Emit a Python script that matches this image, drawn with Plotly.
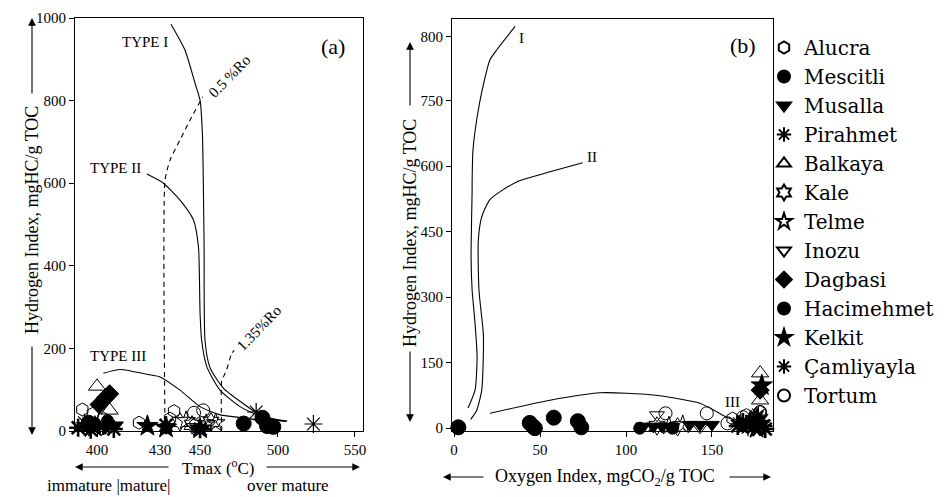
import numpy as np
import plotly.graph_objects as go

FONT = "Liberation Serif, Times New Roman, serif"
LEGEND_FONT = "DejaVu Serif, Liberation Serif, serif"

# ---------------- axis ticks of the (hand-drawn) figure ----------------
TMAX_TICKS = [400, 430, 450, 500, 550]
TMAX_TICK_POS = [400.0, 440.9, 466.9, 517.5, 567.5]   # relative spacing of the drawn Tmax ticks
HI_A_TICKS = [0, 200, 400, 600, 800, 1000]
OI_TICKS = [0, 50, 100, 150]
HI_B_TICKS = [0, 150, 300, 450, 600, 750, 800]
HI_B_BREAK = 750          # HI axis of (b) is compressed above 750
HI_B_STRETCH = 2.93

SERIES = ["Alucra", "Mescitli", "Musalla", "Pirahmet", "Balkaya", "Kale", "Telme",
          "Inozu", "Dagbasi", "Hacimehmet", "Kelkit", "Çamliyayla", "Tortum"]

# ---------------- panel (a): Tmax vs HI ----------------
TMAX_A = {
    "Alucra": [393, 398, 403, 420, 435, 437],
    "Mescitli": [396, 478, 490, 493, 497],
    "Musalla": [395, 404, 409, 434],
    "Pirahmet": [391, 397, 403, 408, 433, 450],
    "Balkaya": [400, 406],
    "Kale": [440, 446, 457],
    "Telme": [443, 454, 460],
    "Inozu": [447, 455],
    "Dagbasi": [401, 404, 406],
    "Hacimehmet": [399, 405],
    "Kelkit": [399, 424, 433, 450],
    "Çamliyayla": [486, 523, 394],
    "Tortum": [447, 452],
}
HI_A = {
    "Alucra": [52, 42, 30, 20, 30, 48],
    "Mescitli": [20, 18, 32, 12, 10],
    "Musalla": [12, 8, 14, 10],
    "Pirahmet": [8, 3, 12, 5, 14, 4],
    "Balkaya": [108, 50],
    "Kale": [22, 15, 22],
    "Telme": [25, 18, 20],
    "Inozu": [10, 14],
    "Dagbasi": [64, 80, 90],
    "Hacimehmet": [18, 25],
    "Kelkit": [10, 12, 8, 6],
    "Çamliyayla": [46, 17, 20],
    "Tortum": [44, 50],
}

# ---------------- panel (b): OI vs HI ----------------
OI_B = {
    "Alucra": [162, 170, 178],
    "Mescitli": [2.5, 44, 46, 47, 58, 72, 74],
    "Musalla": [110, 116, 121, 127, 137, 143, 150],
    "Pirahmet": [165, 168, 170, 174, 176, 178, 180, 181],
    "Balkaya": [178, 178],
    "Kale": [118, 130],
    "Telme": [125, 133],
    "Inozu": [118, 143],
    "Dagbasi": [178],
    "Hacimehmet": [108, 127],
    "Kelkit": [172, 179, 176],
    "Çamliyayla": [166, 171, 175, 179, 177],
    "Tortum": [123, 147, 159, 168, 178],
}
HI_B = {
    "Alucra": [22, 30, 37],
    "Mescitli": [2, 12, 4, 0, 24, 16, 2],
    "Musalla": [4, 4, 4, 3, 8, 8, 8],
    "Pirahmet": [5, 14, 10, 2, 25, 15, 5, -2],
    "Balkaya": [126, 64],
    "Kale": [5, 3],
    "Telme": [5, 8],
    "Inozu": [30, 2],
    "Dagbasi": [87],
    "Hacimehmet": [0, 0],
    "Kelkit": [12, 98, 0],
    "Çamliyayla": [10, 2, 5, 18, 30],
    "Tortum": [34, 34, 11, 25, 37],
}

# ---------------- kerogen type curves ----------------
TYPE1_TMAX = [435.5, 442.5, 447.5, 450, 451.5, 452.1, 452.6, 453.2, 456.4, 464.9, 477.8, 486.3, 496, 506]
TYPE1_HI = [985, 922, 842, 801, 721, 600, 444, 218, 153, 104, 66, 44, 30, 24]
TYPE2_TMAX = [423.7, 431.7, 440, 446.7, 449.2, 450, 451, 454.3, 462.8, 475.6, 484.2, 495, 505]
TYPE2_HI = [622, 600, 559, 511, 446, 285, 220, 156, 99, 59, 43, 30, 23]
TYPE3_TMAX = [403, 411, 425, 430, 440, 450, 463, 480, 486, 505]
TYPE3_HI = [140, 149, 136, 131, 99, 59, 39, 31, 27, 25]
RO05_TMAX = [432.5, 432.5, 435, 440, 445, 451.7]
RO05_HI = [0, 608, 656, 705, 753, 809]
RO135_TMAX = [463.9, 463.9, 465.5, 467, 470.3, 472]
RO135_HI = [0, 123, 135, 148, 188, 195]

TYPE1_OI = [8.1, 12.2, 13.4, 12.2, 10.5, 9.9, 10.5, 10.5, 11, 13.4, 16.3, 20.9, 25, 35.5]
TYPE1_HI_B = [46, 87, 163, 240, 316, 392, 545, 561, 637, 712, 758, 782, 790, 808]
TYPE2_OI = [9.7, 13.2, 16.1, 17, 17, 14.5, 14.1, 16.1, 21, 36.4, 55.8, 74.8]
TYPE2_HI_B = [20, 41, 87, 163, 217, 316, 430, 484, 524, 564, 587, 608]
TYPE3_OI = [20.9, 55.8, 85, 115.7, 143, 158.7, 163.4]
TYPE3_HI_B = [34, 64, 81, 76, 57, 25, 18]

# ---------------- marker styles ----------------
SYMBOLS = {
    "Alucra": ("hexagon-open", 13, 1), "Mescitli": ("circle", 15, 1),
    "Musalla": ("triangle-down", 13, 1), "Pirahmet": ("asterisk-open", 15, 2.6),
    "Balkaya": ("triangle-up-open", 15, 1), "Kale": ("hexagram-open", 14, 1),
    "Telme": ("star-open", 14, 1), "Inozu": ("triangle-down-open", 13, 1),
    "Dagbasi": ("diamond", 14, 1), "Hacimehmet": ("circle", 12, 1),
    "Kelkit": ("star", 16, 1), "Çamliyayla": ("asterisk-open", 15, 1.2),
    "Tortum": ("circle-open", 13, 1),
}


def tmax_pos(t):
    t = np.asarray(t, float)
    lo = (TMAX_TICK_POS[1] - TMAX_TICK_POS[0]) / (TMAX_TICKS[1] - TMAX_TICKS[0])
    hi = (TMAX_TICK_POS[-1] - TMAX_TICK_POS[-2]) / (TMAX_TICKS[-1] - TMAX_TICKS[-2])
    out = np.interp(t, TMAX_TICKS, TMAX_TICK_POS)
    out = np.where(t < TMAX_TICKS[0], TMAX_TICK_POS[0] + (t - TMAX_TICKS[0]) * lo, out)
    out = np.where(t > TMAX_TICKS[-1], TMAX_TICK_POS[-1] + (t - TMAX_TICKS[-1]) * hi, out)
    return out


def hib_pos(h):
    h = np.asarray(h, float)
    return np.where(h <= HI_B_BREAK, h, HI_B_BREAK + (h - HI_B_BREAK) * HI_B_STRETCH)


fig = go.Figure()

line_style = dict(color="black", width=1.1, shape="spline", smoothing=0.6)
dash_style = dict(color="black", width=1.1, dash="5px,4px", shape="spline", smoothing=0.5)

for tx, hy in [(TYPE1_TMAX, TYPE1_HI), (TYPE2_TMAX, TYPE2_HI), (TYPE3_TMAX, TYPE3_HI)]:
    fig.add_trace(go.Scatter(x=tmax_pos(tx), y=hy, mode="lines", line=line_style,
                             showlegend=False, hoverinfo="skip", xaxis="x", yaxis="y"))
for tx, hy in [(RO05_TMAX, RO05_HI), (RO135_TMAX, RO135_HI)]:
    fig.add_trace(go.Scatter(x=tmax_pos(tx), y=hy, mode="lines", line=dash_style,
                             showlegend=False, hoverinfo="skip", xaxis="x", yaxis="y"))
for ox, hy in [(TYPE1_OI, TYPE1_HI_B), (TYPE2_OI, TYPE2_HI_B), (TYPE3_OI, TYPE3_HI_B)]:
    fig.add_trace(go.Scatter(x=ox, y=hib_pos(hy), mode="lines", line=line_style,
                             showlegend=False, hoverinfo="skip", xaxis="x2", yaxis="y2"))

for name in SERIES:
    sym, size, lw = SYMBOLS[name]
    mk = dict(symbol=sym, size=size, color="black", line=dict(color="black", width=lw))
    fig.add_trace(go.Scatter(x=tmax_pos(TMAX_A[name]), y=HI_A[name], mode="markers",
                             marker=mk, name=name, legendgroup=name, showlegend=True,
                             cliponaxis=False, xaxis="x", yaxis="y",
                             customdata=TMAX_A[name], hovertemplate="Tmax %{customdata}<br>HI %{y}"))
    fig.add_trace(go.Scatter(x=OI_B[name], y=hib_pos(HI_B[name]), mode="markers",
                             marker=mk, name=name, legendgroup=name, showlegend=False,
                             cliponaxis=False, xaxis="x2", yaxis="y2",
                             customdata=HI_B[name], hovertemplate="OI %{x}<br>HI %{customdata}"))

W, H = 944, 497


def px(x):
    return x / W


def py(y):
    return 1 - y / H


axis_common = dict(showline=True, mirror=True, linecolor="black", linewidth=1.2,
                   ticks="outside", ticklen=5, tickcolor="black", tickwidth=1,
                   showgrid=False, zeroline=False, automargin=False,
                   tickfont=dict(family=FONT, size=15, color="black"))

fig.update_layout(
    width=W, height=H, margin=dict(l=0, r=0, t=0, b=0, autoexpand=False),
    paper_bgcolor="white", plot_bgcolor="white",
    xaxis=dict(domain=[px(75), px(363)], range=[385.7, 572.7], anchor="y",
               tickvals=tmax_pos(TMAX_TICKS), ticktext=[str(t) for t in TMAX_TICKS], **axis_common),
    yaxis=dict(domain=[py(431), py(18)], range=[0, 1000], anchor="x",
               tickvals=HI_A_TICKS, **axis_common),
    xaxis2=dict(domain=[px(452), px(773)], range=[-1.2, 185.5], anchor="y2",
                tickvals=OI_TICKS, **axis_common),
    yaxis2=dict(domain=[py(431), py(19)], range=[-6.5, 937], anchor="x2",
                tickvals=hib_pos(HI_B_TICKS), ticktext=[str(t) for t in HI_B_TICKS], **axis_common),
    legend=dict(x=px(764), y=py(28), xanchor="left", yanchor="top",
                font=dict(family=LEGEND_FONT, size=20, color="black"),
                bgcolor="rgba(0,0,0,0)", tracegroupgap=0, itemsizing="constant", traceorder="normal"),
    font=dict(family=FONT, color="black"),
)

ann = []


def text(x, y, s, size, angle=0, xref="paper", yref="paper", xanchor="center", yanchor="middle"):
    ann.append(dict(x=x, y=y, xref=xref, yref=yref, text=s, showarrow=False,
                    xanchor=xanchor, yanchor=yanchor,
                    textangle=angle, font=dict(family=FONT, size=size, color="black")))


def arrow(xh, yh, xt, yt):
    ann.append(dict(x=px(xh), y=py(yh), xref="paper", yref="paper", text="",
                    showarrow=True, ax=xt - xh, ay=yt - yh, arrowhead=2, arrowsize=1.4,
                    arrowwidth=1.1, arrowcolor="black"))


# axis titles
text(px(32), py(220), "Hydrogen Index, mgHC/g TOC", 18, angle=-90)
arrow(32, 18, 32, 95)
arrow(32, 435, 32, 345)
text(px(218), py(467), "Tmax (<sup>o</sup>C)", 17)
arrow(75, 467, 170, 467)
arrow(360, 467, 265, 467)
text(px(172), py(485), "immature |mature|", 17, xanchor="right")
text(px(245), py(485), "over mature", 17, xanchor="left")

text(px(410), py(233), "Hydrogen Index, mgHC/g TOC", 18, angle=-90)
arrow(410, 42, 410, 107)
arrow(410, 422, 410, 350)
text(px(605), py(477), "Oxygen Index, mgCO<sub>2</sub>/g TOC", 18)
arrow(443, 477, 485, 477)
arrow(771, 477, 728, 477)

# panel labels
text(px(333), py(47), "(a)", 22)
text(px(743), py(45), "(b)", 22)

# curve labels (a)
text(float(tmax_pos(422.9)), 942, "TYPE I", 15, xref="x", yref="y")
text(float(tmax_pos(408.6)), 637, "TYPE II", 15, xref="x", yref="y")
text(float(tmax_pos(410)), 182, "TYPE III", 15, xref="x", yref="y")
text(float(tmax_pos(469)), 860, "0.5 %Ro", 15, angle=-46, xref="x", yref="y")
text(float(tmax_pos(488)), 249, "1.35%Ro", 15, angle=-46, xref="x", yref="y")
# curve labels (b)
text(39, float(hib_pos(799)), "I", 15, xref="x2", yref="y2")
text(80, float(hib_pos(620)), "II", 15, xref="x2", yref="y2")
text(162, float(hib_pos(60)), "III", 15, xref="x2", yref="y2")

fig.update_layout(annotations=ann)
fig.write_html("out.html", config={"displayModeBar": False},
               post_script="document.body.style.margin='0px';document.body.style.overflow='hidden';")
